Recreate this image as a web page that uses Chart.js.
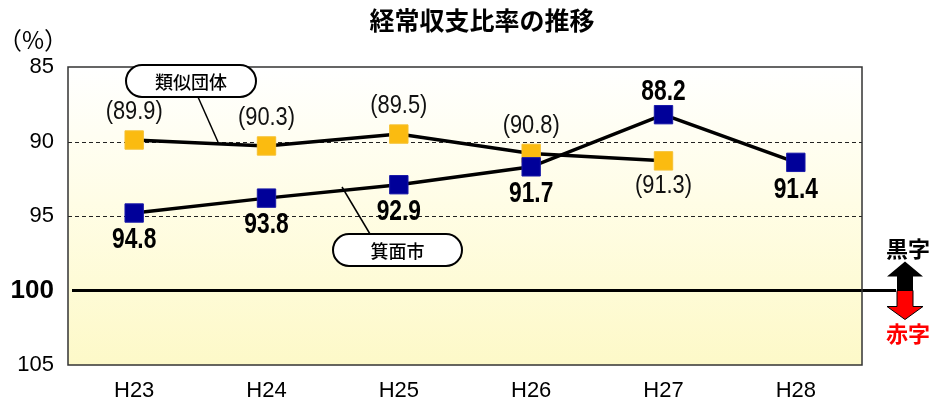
<!DOCTYPE html>
<html>
<head>
<meta charset="utf-8">
<script src="https://cdn.jsdelivr.net/npm/chart.js@4"></script>
<style>
  body { margin: 0; background: #fff; }
  #wrap { width: 931px; height: 403px; }
</style>
</head>
<body>
<div id="wrap"><canvas id="ratioChart" width="931" height="403"></canvas></div>
<script>
// data
const years = ['H23', 'H24', 'H25', 'H26', 'H27', 'H28'];
const minohValues = [94.8, 93.8, 92.9, 91.7, 88.2, 91.4];
const similarValues = [89.9, 90.3, 89.5, 90.8, 91.3, null];
const yTicks = [85, 90, 95, 100, 105];

const sans = "'Liberation Sans', Arial, sans-serif";
const jp = "'Noto Sans CJK JP', 'Noto Sans', sans-serif";

// where the value labels go (above / below the marker)
const minohLabelBelow = [true, true, true, true, false, true];
const similarLabelBelow = [false, false, false, false, true, false];

// squeeze text horizontally (the original uses a condensed face)
function narrowText(ctx, text, x, y, sx) {
    ctx.save();
    ctx.translate(x, y);
    ctx.scale(sx, 1);
    ctx.fillText(text, 0, 0);
    ctx.restore();
}

// Function to draw the rounded callout boxes with their leader lines
function callout(ctx, x, y, w, h, text, lx1, ly1, lx2, ly2) {
    ctx.save();
    ctx.strokeStyle = '#000';
    ctx.lineWidth = 1.5;
    ctx.beginPath();
    ctx.moveTo(lx1, ly1);
    ctx.lineTo(lx2, ly2);
    ctx.stroke();
    ctx.beginPath();
    ctx.roundRect(x, y, w, h, h / 2);
    ctx.fillStyle = '#fff';
    ctx.fill();
    ctx.lineWidth = 2;
    ctx.stroke();
    ctx.fillStyle = '#000';
    ctx.font = '500 18px ' + jp;
    ctx.textAlign = 'center';
    ctx.textBaseline = 'middle';
    ctx.fillText(text, x + w / 2, y + h / 2 + 1);
    ctx.restore();
}

const decorPlugin = {
    id: 'decor',
    beforeDatasetsDraw(chart) {
        const { ctx, chartArea: a, scales: { y } } = chart;
        ctx.save();
        // background gradient
        const g = ctx.createLinearGradient(0, a.top, 0, a.bottom);
        g.addColorStop(0, '#ffffff');
        g.addColorStop(0.45, '#fffde6');
        g.addColorStop(1, '#fdf9c8');
        ctx.fillStyle = g;
        ctx.fillRect(a.left, a.top, a.right - a.left, a.bottom - a.top);

        // dashed grid lines
        ctx.strokeStyle = '#222';
        ctx.lineWidth = 1;
        ctx.setLineDash([4, 3]);
        [90, 95].forEach(v => {
            const py = Math.round(y.getPixelForValue(v)) + 0.5;
            ctx.beginPath();
            ctx.moveTo(a.left, py);
            ctx.lineTo(a.right, py);
            ctx.stroke();
        });
        ctx.setLineDash([]);

        // 100% line, runs out past the frame
        const p100 = y.getPixelForValue(100);
        ctx.lineWidth = 3;
        ctx.strokeStyle = '#000';
        ctx.beginPath();
        ctx.moveTo(a.left + 4, p100);
        ctx.lineTo(a.right + 34, p100);
        ctx.stroke();

        // frame
        ctx.lineWidth = 1.5;
        ctx.strokeStyle = '#333';
        ctx.strokeRect(a.left, a.top, a.right - a.left, a.bottom - a.top);
        ctx.restore();
    },
    afterDatasetsDraw(chart) {
        const { ctx, chartArea: a, scales: { y } } = chart;
        ctx.save();
        ctx.textAlign = 'center';
        ctx.textBaseline = 'middle';

        // similar municipalities labels
        const m1 = chart.getDatasetMeta(1);
        ctx.font = '26px ' + sans;
        ctx.fillStyle = '#111';
        m1.data.forEach((pt, i) => {
            if (similarValues[i] == null) return;
            const dy = similarLabelBelow[i] ? 25 : -28;
            narrowText(ctx, '(' + similarValues[i].toFixed(1) + ')', pt.x, pt.y + dy, 0.84);
        });

        // Minoh city labels
        const m0 = chart.getDatasetMeta(0);
        ctx.font = 'bold 30px ' + sans;
        ctx.fillStyle = '#000';
        m0.data.forEach((pt, i) => {
            const dy = minohLabelBelow[i] ? 27 : -23;
            narrowText(ctx, minohValues[i].toFixed(1), pt.x, pt.y + dy, 0.76);
        });

        // callouts
        callout(ctx, 126, 65, 130, 32, '類似団体', 198, 97, 218, 142);
        callout(ctx, 333, 234, 129, 32, '箕面市', 342, 187, 370, 234);

        // title and unit
        ctx.fillStyle = '#000';
        ctx.font = 'bold 25px ' + jp;
        ctx.fillText('経常収支比率の推移', 482, 20);
        ctx.font = '24px ' + jp;
        ctx.fillText('（%）', 33, 40);

        // surplus / deficit marker at the right
        const p100 = y.getPixelForValue(100);
        const cx = a.right + 43;
        ctx.font = 'bold 22px ' + jp;
        ctx.fillStyle = '#000';
        ctx.fillText('黒字', cx + 3, p100 - 42);
        ctx.fillStyle = '#ff0000';
        ctx.fillText('赤字', cx + 3, p100 + 43);

        ctx.lineWidth = 1;
        ctx.strokeStyle = '#000';
        // up arrow (black)
        ctx.beginPath();
        ctx.moveTo(cx, p100 - 29);
        ctx.lineTo(cx + 18, p100 - 14);
        ctx.lineTo(cx + 8, p100 - 14);
        ctx.lineTo(cx + 8, p100);
        ctx.lineTo(cx - 8, p100);
        ctx.lineTo(cx - 8, p100 - 14);
        ctx.lineTo(cx - 18, p100 - 14);
        ctx.closePath();
        ctx.fillStyle = '#000';
        ctx.fill();
        // down arrow (red)
        ctx.beginPath();
        ctx.moveTo(cx - 8, p100);
        ctx.lineTo(cx + 8, p100);
        ctx.lineTo(cx + 8, p100 + 16);
        ctx.lineTo(cx + 18, p100 + 16);
        ctx.lineTo(cx, p100 + 29);
        ctx.lineTo(cx - 18, p100 + 16);
        ctx.lineTo(cx - 8, p100 + 16);
        ctx.closePath();
        ctx.fillStyle = '#ff0000';
        ctx.fill();
        ctx.stroke();
        ctx.restore();
    }
};

new Chart(document.getElementById('ratioChart'), {
    type: 'line',
    data: {
        labels: years,
        datasets: [{
            label: '箕面市',
            data: minohValues,
            borderColor: '#000',
            borderWidth: 3.5,
            pointStyle: 'rect',
            pointRadius: 13,
            pointBackgroundColor: '#000099',
            pointBorderColor: '#1a1aa8',
            pointBorderWidth: 1,
            tension: 0
        }, {
            label: '類似団体',
            data: similarValues,
            borderColor: '#000',
            borderWidth: 3.5,
            pointStyle: 'rect',
            pointRadius: 13,
            pointBackgroundColor: '#fbbb10',
            pointBorderColor: '#f5c030',
            pointBorderWidth: 1,
            tension: 0,
            spanGaps: false
        }]
    },
    options: {
        responsive: false,
        animation: false,
        events: [],
        layout: { padding: { left: 0, right: 69, top: 67, bottom: 0 } },
        plugins: {
            legend: { display: false },
            tooltip: { enabled: false }
        },
        scales: {
            x: {
                offset: true,
                grid: { display: false },
                border: { display: false },
                ticks: {
                    color: '#000',
                    padding: 5,
                    font: { family: sans, size: 22 }
                },
                afterFit(s) { s.height = 38; }
            },
            y: {
                reverse: true,
                min: 85,
                max: 105,
                grid: { display: false },
                border: { display: false },
                afterBuildTicks(s) { s.ticks = yTicks.map(v => ({ value: v })); },
                ticks: {
                    color: '#000',
                    padding: 6,
                    font: ctx => ctx.tick && ctx.tick.value === 100
                        ? { family: sans, size: 26, weight: 'bold' }
                        : { family: sans, size: 22 }
                },
                afterFit(s) { s.width = 68; }
            }
        }
    },
    plugins: [decorPlugin]
});
</script>
</body>
</html>
